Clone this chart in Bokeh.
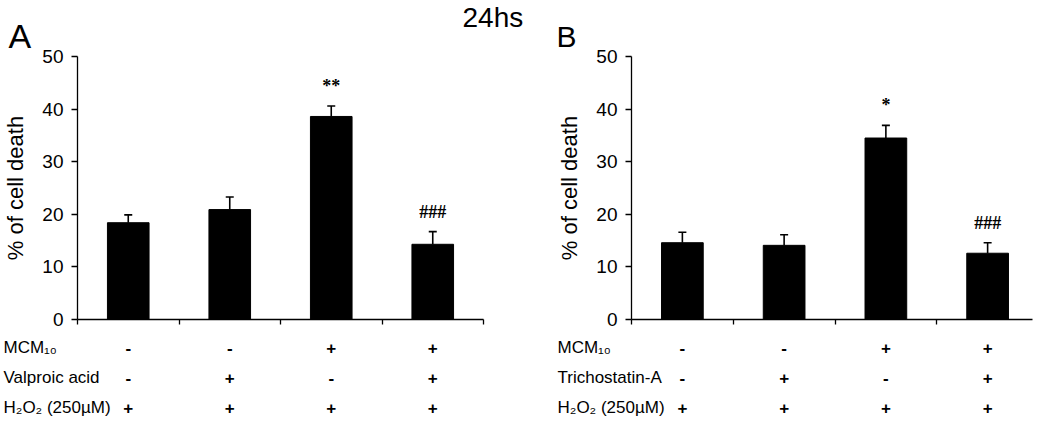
from bokeh.plotting import figure
from bokeh.layouts import row, column
from bokeh.models import (Range1d, FixedTicker, Whisker, ColumnDataSource,
                          LabelSet, TeeHead)
from bokeh.core.properties import value
from bokeh.embed import file_html
from bokeh.resources import INLINE

# ---------------- data ----------------
conditions = [1, 2, 3, 4]
a_mean = [18.4, 20.9, 38.6, 14.3]
a_err = [1.5, 2.4, 2.0, 2.4]
a_sig = ["", "", "**", "###"]
b_mean = [14.6, 14.1, 34.5, 12.6]
b_err = [2.0, 2.0, 2.4, 2.0]
b_sig = ["", "", "*", "###"]
a_rows = ["MCM\u2081\u2080", "Valproic acid", "H\u2082O\u2082 (250\u00b5M)"]
b_rows = ["MCM\u2081\u2080", "Trichostatin-A", "H\u2082O\u2082 (250\u00b5M)"]
signs_mcm = ["-", "-", "+", "+"]
signs_drug = ["-", "+", "-", "+"]
signs_h2o2 = ["+", "+", "+", "+"]
y_ticks = [0, 10, 20, 30, 40, 50]
x_ticks = [0.5, 1.5, 2.5, 3.5, 4.5]
panel_letters = ["A", "B"]
time_label = "24hs"

FONT = "Liberation Sans"
TOTAL_W = 1034
HEADER_H = 48
CHART_H = 280
TABLE_H = 92
ROW_Y = [19, 49, 79]          # row centres, px from top of the table strip


def strip(width, x_range, h):
    p = figure(width=width, height=h, output_backend="svg", toolbar_location=None,
               x_range=x_range, y_range=Range1d(h, 0),
               x_axis_location=None, y_axis_location=None,
               min_border=0)
    p.outline_line_color = None
    p.grid.visible = False
    return p


def make_panel(mean, err, sig, rows, width, b_left, ppu, b_top, frame_h, row_dx):
    frame_w = min(4 * ppu, width - b_left - 2)
    b_right = width - b_left - frame_w
    x_lo = 0.5 - b_left / ppu
    x_hi = x_lo + width / ppu

    # ----- chart -----
    p = figure(width=width, height=CHART_H, output_backend="svg", toolbar_location=None,
               x_range=Range1d(0.5, 0.5 + frame_w / ppu), y_range=Range1d(0, 50),
               min_border_left=b_left, min_border_right=int(b_right),
               min_border_top=b_top, min_border_bottom=CHART_H - b_top - frame_h)
    p.outline_line_color = None
    p.grid.visible = False

    upper = [m + e for m, e in zip(mean, err)]
    src = ColumnDataSource(dict(x=conditions, top=mean, upper=upper, sig=sig))
    p.vbar(x="x", top="top", width=0.41, source=src, fill_color="black",
           line_color="black")
    p.add_layout(Whisker(base="x", lower="top", upper="upper", source=src,
                         line_color="black", line_width=1.6,
                         upper_head=TeeHead(size=8, line_width=1.6, line_color="black"),
                         lower_head=None))
    p.add_layout(LabelSet(x="x", y="upper", text="sig", source=src,
                          text_align="center", text_baseline="middle",
                          y_offset=20, text_font=FONT, text_font_size="18px",
                          text_font_style="bold", text_color="black"))

    p.yaxis.ticker = FixedTicker(ticks=y_ticks)
    p.yaxis.minor_tick_line_color = None
    p.yaxis.major_tick_in = 0
    p.yaxis.major_tick_out = 6
    p.yaxis.major_label_standoff = 8
    p.yaxis.major_label_text_font = FONT
    p.yaxis.major_label_text_font_size = "19px"
    p.yaxis.major_label_text_color = "black"
    p.yaxis.axis_label = "% of cell death"
    p.yaxis.axis_label_text_font = FONT
    p.yaxis.axis_label_text_font_size = "22px"
    p.yaxis.axis_label_text_font_style = "normal"
    p.yaxis.axis_label_text_color = "black"
    p.yaxis.axis_label_standoff = 11
    p.yaxis.axis_line_color = "black"
    p.yaxis.major_tick_line_color = "black"
    p.yaxis.axis_line_width = 1.3
    p.yaxis.major_tick_line_width = 1.3

    p.xaxis.ticker = FixedTicker(ticks=x_ticks)
    p.xaxis.minor_tick_line_color = None
    p.xaxis.major_tick_in = 0
    p.xaxis.major_tick_out = 5
    p.xaxis.major_label_standoff = 0
    p.xaxis.major_label_text_font_size = "0px"
    p.xaxis.major_label_text_color = None
    p.xaxis.axis_line_color = "black"
    p.xaxis.major_tick_line_color = "black"
    p.xaxis.axis_line_width = 1.3
    p.xaxis.major_tick_line_width = 1.3

    # ----- treatment table strip -----
    t = strip(width, Range1d(x_lo, x_hi), TABLE_H)
    for name, sgn, ry in zip(rows, [signs_mcm, signs_drug, signs_h2o2], ROW_Y):
        t.text(x=[0.5], y=[ry], text=[name], x_offset=row_dx,
               text_font=value(FONT), text_font_size="17px",
               text_baseline="middle", text_align="left", text_color="black")
        t.text(x=conditions, y=[ry] * 4, text=sgn,
               text_font=value(FONT), text_font_size="17px", text_font_style="bold",
               text_baseline="middle", text_align="center", text_color="black")
    return p, t, x_lo


A_W, A_LEFT, A_PPU = 520, 77, 101.5
pA, tA, xloA = make_panel(a_mean, a_err, a_sig, a_rows, A_W, A_LEFT, A_PPU, 8, 266, -74)
pB, tB, _ = make_panel(b_mean, b_err, b_sig, b_rows, TOTAL_W - A_W, 111, 101.75, 7, 264, -74)

# ----- header strip spanning both panels (x in panel-A units) -----
hdr = strip(TOTAL_W, Range1d(xloA, xloA + TOTAL_W / A_PPU), HEADER_H)
hdr.text(x=[0.5], y=[35], text=[panel_letters[0]], x_offset=-69,
         text_font=value(FONT), text_font_size="34px",
         text_baseline="middle", text_align="left", text_color="black")
hdr.text(x=[0.5], y=[36], text=[panel_letters[1]], x_offset=479,
         text_font=value(FONT), text_font_size="30px",
         text_baseline="middle", text_align="left", text_color="black")
hdr.text(x=[0.5], y=[17], text=[time_label], x_offset=385,
         text_font=value(FONT), text_font_size="28px",
         text_baseline="middle", text_align="left", text_color="black")

layout = column(hdr, row(pA, pB), row(tA, tB))
open("out.html", "w").write(file_html(layout, INLINE))
